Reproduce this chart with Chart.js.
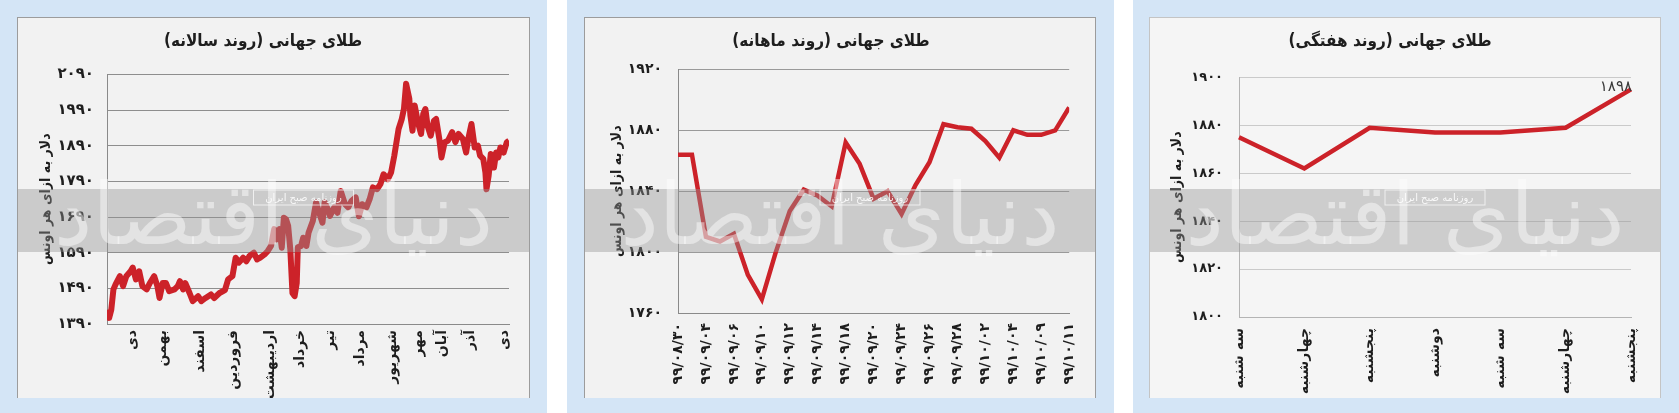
<!DOCTYPE html>
<html lang="fa">
<head>
<meta charset="utf-8">
<script src="https://cdn.jsdelivr.net/npm/chart.js@4/dist/chart.umd.min.js"></script>
<style>
  html, body { margin: 0; padding: 0; }
  body { width: 1679px; height: 413px; background: #d4e5f6; position: relative; overflow: hidden; }
  .gap { position: absolute; top: 0; height: 413px; background: #ffffff; }
  .box { position: absolute; top: 17px; height: 381px; background: #f2f2f2; border: 1px solid #9c9c9c; border-bottom: none; box-sizing: border-box; }
  canvas { position: absolute; top: 17px; }
</style>
</head>
<body>
<div class="gap" style="left:547px;width:20px"></div>
<div class="gap" style="left:1114px;width:19px"></div>
<div class="box" style="left:17px;width:513px"></div>
<div class="box" style="left:584px;width:512px"></div>
<div class="box" style="left:1149px;width:512px;background:#f5f5f5;border-color:#c4c4c4"></div>
<canvas id="yearChart" dir="rtl" width="513" height="381" style="left:17px"></canvas>
<canvas id="monthChart" dir="rtl" width="512" height="381" style="left:584px"></canvas>
<canvas id="weekChart" dir="rtl" width="512" height="381" style="left:1149px"></canvas>
<script>
// yearly trend: [day of year, dollars per ounce]
const yearSeries = [
  [0,1430],[2,1407],[4,1430],[6,1487],[8,1501],[12,1524],[15,1496],[18,1524],[22,1538],[24,1548],
  [27,1515],[30,1538],[33,1496],[37,1487],[40,1505],[44,1524],[47,1496],[49,1463],[52,1505],[55,1505],
  [58,1482],[63,1487],[66,1496],[68,1510],[71,1487],[73,1505],[77,1477],[80,1454],[85,1468],[88,1454],
  [92,1463],[97,1473],[100,1463],[105,1477],[110,1485],[113,1515],[117,1524],[120,1576],[123,1562],[127,1576],
  [130,1566],[133,1581],[137,1590],[140,1571],[143,1576],[147,1585],[150,1595],[153,1609],[156,1656],[158,1627],
  [161,1656],[163,1604],[165,1688],[167,1684],[169,1665],[171,1599],[173,1477],[175,1468],[177,1505],[178,1605],
  [181,1609],[183,1632],[186,1609],[188,1646],[192,1679],[195,1731],[198,1702],[201,1674],[203,1731],[206,1712],
  [208,1693],[212,1717],[215,1702],[218,1763],[222,1726],[225,1717],[228,1735],[232,1745],[235,1692],[238,1726],
  [242,1717],[245,1740],[248,1773],[252,1768],[255,1782],[258,1810],[262,1796],[265,1815],[268,1862],[272,1937],
  [275,1965],[277,1993],[279,2064],[282,2022],[283,1975],[285,1932],[287,2003],[290,1956],[293,1923],[295,1979],
  [297,1993],[299,1946],[302,1918],[305,1960],[307,1965],[310,1909],[312,1857],[315,1900],[318,1904],[322,1928],
  [325,1900],[328,1923],[332,1909],[335,1871],[337,1909],[340,1951],[343,1885],[346,1890],[348,1862],[351,1853],
  [353,1815],[354,1768],[356,1806],[358,1867],[361,1829],[363,1871],[365,1857],[367,1885],[370,1871],[373,1900],
  [375,1904]
];
const monthDays = [24, 52, 87, 118, 152, 180, 208, 236, 266, 290, 313, 339, 371];
const monthNames = ['دی', 'بهمن', 'اسفند', 'فروردین', 'اردیبهشت', 'خرداد', 'تیر', 'مرداد', 'شهریور', 'مهر', 'آبان', 'آذر', 'دی'];

// monthly trend: one point every half label step
const monthDates = ['۹۹/۰۸/۳۰', '۹۹/۰۹/۰۴', '۹۹/۰۹/۰۶', '۹۹/۰۹/۱۰', '۹۹/۰۹/۱۲', '۹۹/۰۹/۱۴', '۹۹/۰۹/۱۸', '۹۹/۰۹/۲۰',
  '۹۹/۰۹/۲۴', '۹۹/۰۹/۲۶', '۹۹/۰۹/۲۸', '۹۹/۱۰/۰۲', '۹۹/۱۰/۰۴', '۹۹/۱۰/۰۹', '۹۹/۱۰/۱۱'];
const monthGold = [1864, 1864, 1810, 1807, 1812, 1785, 1769, 1800, 1827, 1841, 1837, 1830, 1872, 1858, 1835,
  1840, 1825, 1844, 1859, 1884, 1882, 1881, 1873, 1862, 1880, 1877, 1877, 1880, 1895];

// weekly trend
const weekDays = ['سه شنبه', 'چهارشنبه', 'پنجشنبه', 'دوشنبه', 'سه شنبه', 'چهارشنبه', 'پنجشنبه'];
const weekGold = [1875, 1862, 1879, 1877, 1877, 1879, 1895];
const weekLastLabel = '۱۸۹۸';

const titles = ['طلای جهانی (روند سالانه)', 'طلای جهانی (روند ماهانه)', 'طلای جهانی (روند هفتگی)'];
const yTitle = 'دلار به ازای هر اونس';

const FONT = '"DejaVu Sans", sans-serif';
const CFONT = '"DejaVu Sans Condensed", "DejaVu Sans", sans-serif';
const RED = '#cc2229';
const fa = s => String(s).replace(/\d/g, d => '۰۱۲۳۴۵۶۷۸۹'[d]);

// grey strip of the newspaper watermark, drawn over the line
const watermark = {
  id: 'watermark',
  afterDatasetsDraw(chart) {
    const c = chart.ctx;
    const mid = chart.width / 2;
    c.save();
    c.fillStyle = 'rgba(148,148,148,0.41)';
    c.fillRect(1, 172, chart.width - 2, 63);
    c.direction = 'rtl';
    c.textAlign = 'center';
    c.textBaseline = 'middle';
    c.font = '86px ' + FONT;
    c.fillStyle = 'rgba(255,255,255,0.45)';
    c.fillText('دنیای اقتصاد', mid, 205);
    c.strokeStyle = 'rgba(255,255,255,0.7)';
    c.lineWidth = 1;
    c.strokeRect(mid - 20, 173, 100, 15);
    c.font = '10px ' + FONT;
    c.fillStyle = 'rgba(255,255,255,0.85)';
    c.fillText('روزنامه صبح ایران', mid + 30, 181);
    c.restore();
  }
};

const lastLabel = {
  id: 'lastLabel',
  afterDatasetsDraw(chart) {
    const pts = chart.getDatasetMeta(0).data;
    const p = pts[pts.length - 1];
    const c = chart.ctx;
    c.save();
    c.font = '15px ' + FONT;
    c.fillStyle = '#3a3a3a';
    c.textAlign = 'right';
    c.textBaseline = 'alphabetic';
    c.fillText(weekLastLabel, p.x + 1, p.y + 2);
    c.restore();
  }
};

function makeChart(id, o) {
  return new Chart(document.getElementById(id), {
    type: 'line',
    data: {
      labels: o.labels,
      datasets: [{ data: o.data, borderColor: RED, borderWidth: o.lineWidth, borderJoinStyle: o.join,
        pointRadius: 0, tension: 0, fill: false }]
    },
    options: {
      responsive: false,
      animation: false,
      devicePixelRatio: 1,
      layout: { padding: { left: 0, right: o.right, top: 0, bottom: 0 } },
      plugins: {
        legend: { display: false },
        tooltip: { enabled: false },
        title: {
          display: true,
          text: o.title,
          color: '#1e1e1e',
          font: { family: CFONT, size: 17, weight: 'bold' },
          padding: { top: 14, bottom: o.titleGap }
        }
      },
      scales: {
        x: Object.assign({
          grid: { display: false, drawTicks: false },
          border: { display: true, color: o.axisColor, width: 1 },
          afterFit: s => { s.height = o.xHeight; }
        }, o.x),
        y: {
          min: o.yMin, max: o.yMax,
          grid: { color: o.gridColor, drawTicks: false },
          border: { display: true, color: o.axisColor, width: 1 },
          ticks: {
            stepSize: o.yStep,
            padding: o.yPad,
            color: '#1e1e1e',
            font: { family: FONT, size: o.yFont, weight: 'bold' },
            callback: v => fa(v)
          },
          title: {
            display: true,
            text: yTitle,
            color: '#1e1e1e',
            font: { family: CFONT, size: 14, weight: 'bold' },
            padding: { top: o.yTitlePad, bottom: 0 }
          },
          afterFit: s => { s.width = o.yWidth; }
        }
      }
    },
    plugins: o.plugins
  });
}

const xTickFont = { family: FONT, size: 14, weight: 'bold' };

makeChart('yearChart', {
  title: titles[0],
  data: yearSeries.map(p => ({ x: p[0], y: p[1] })),
  lineWidth: 6, join: 'round',
  right: 21, titleGap: 23, xHeight: 74, yWidth: 90, yPad: 13, yTitlePad: 21, yFont: 15,
  yMin: 1390, yMax: 2090, yStep: 100,
  gridColor: '#8e8e8e', axisColor: '#8a8a8a',
  x: {
    type: 'linear', min: 0, max: 375,
    afterBuildTicks: s => { s.ticks = monthDays.map(v => ({ value: v })); },
    ticks: { autoSkip: false, minRotation: 90, maxRotation: 90, padding: 6, color: '#1e1e1e', font: xTickFont,
      callback: (v, i) => monthNames[i] }
  },
  plugins: [watermark]
});

makeChart('monthChart', {
  title: titles[1],
  data: monthGold.map((v, i) => ({ x: i, y: v })),
  lineWidth: 4.5, join: 'miter',
  right: 18, titleGap: 18, xHeight: 85, yWidth: 94, yPad: 16, yTitlePad: 25, yFont: 14,
  yMin: 1760, yMax: 1920, yStep: 40,
  gridColor: '#9a9a9a', axisColor: '#8a8a8a',
  x: {
    type: 'linear', min: 0, max: monthGold.length - 1,
    afterBuildTicks: s => { s.ticks = monthDates.map((d, i) => ({ value: i * 2 })); },
    ticks: { autoSkip: false, minRotation: 90, maxRotation: 90, padding: 10, color: '#1e1e1e', font: xTickFont,
      callback: (v, i) => monthDates[i] }
  },
  plugins: [watermark]
});

makeChart('weekChart', {
  title: titles[2],
  labels: weekDays,
  data: weekGold,
  lineWidth: 4.5, join: 'miter',
  right: 30, titleGap: 26, xHeight: 81, yWidth: 90, yPad: 16, yTitlePad: 20, yFont: 13,
  yMin: 1800, yMax: 1900, yStep: 20,
  gridColor: '#cacaca', axisColor: '#b4b4b4',
  x: {
    type: 'category', offset: false,
    ticks: { autoSkip: false, minRotation: 90, maxRotation: 90, padding: 11, color: '#1e1e1e', font: xTickFont }
  },
  plugins: [watermark, lastLabel]
});
</script>
</body>
</html>
